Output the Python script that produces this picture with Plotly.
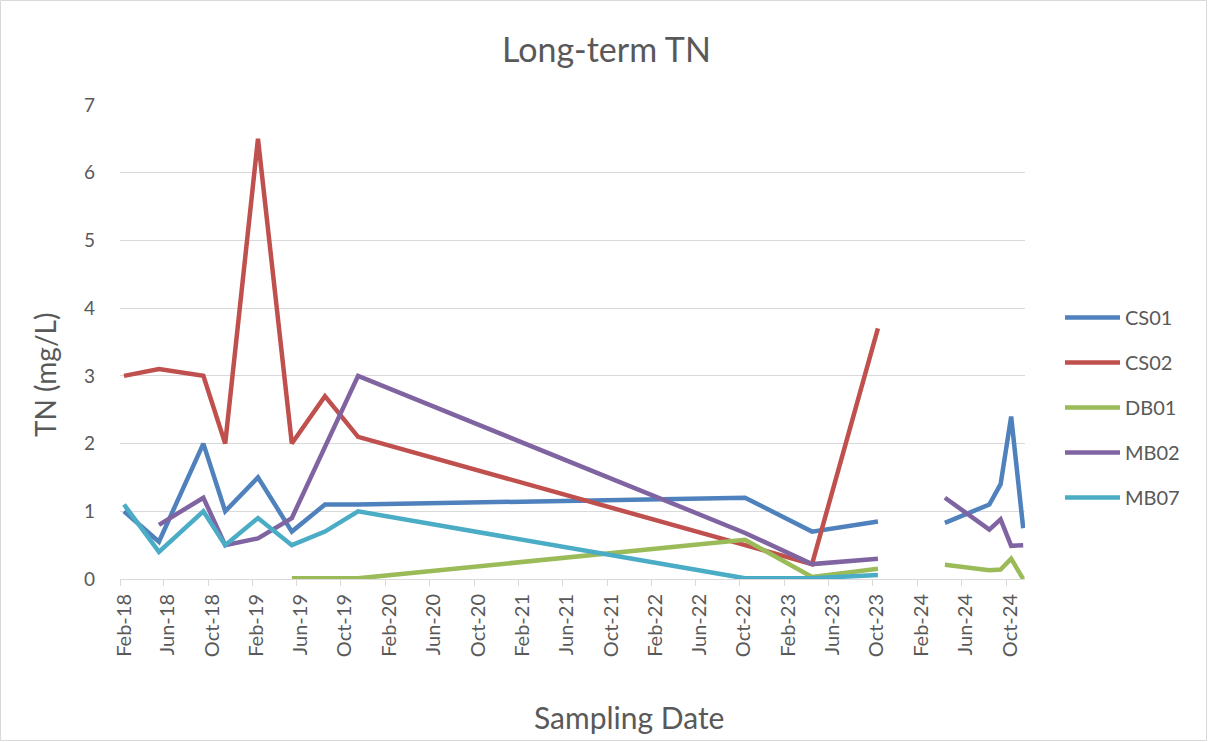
import plotly.graph_objects as go

# Sampling dates (a blank row in Jan-24 breaks the lines)
dates = ["2018-02-12", "2018-05-19", "2018-09-18", "2018-11-17", "2019-02-15",
         "2019-05-19", "2019-08-18", "2019-11-17", "2022-10-15", "2023-04-17",
         "2023-10-15", "2024-01-15", "2024-04-16", "2024-08-16", "2024-09-16",
         "2024-10-15", "2024-11-17"]

CS01 = [1.0, 0.55, 2.0, 1.0, 1.5, 0.7, 1.1, 1.1, 1.2, 0.7, 0.85, None, 0.83, 1.1, 1.4, 2.4, 0.75]
CS02 = [3.0, 3.1, 3.0, 2.0, 6.5, 2.0, 2.7, 2.1, 0.5, 0.22, 3.7, None, None, None, None, None, None]
DB01 = [None, None, None, None, None, 0.01, 0.01, 0.01, 0.58, 0.03, 0.15, None, 0.21, 0.13, 0.14, 0.3, 0.0]
MB02 = [None, 0.8, 1.2, 0.5, 0.6, 0.9, 1.95, 3.0, 0.68, 0.22, 0.3, None, 1.2, 0.73, 0.88, 0.49, 0.5]
MB07 = [1.1, 0.4, 1.0, 0.5, 0.9, 0.5, 0.7, 1.0, 0.01, 0.01, 0.06, None, None, None, None, None, None]

series = [("CS01", CS01, "#4F81BD"), ("CS02", CS02, "#C0504D"), ("DB01", DB01, "#9BBB59"),
          ("MB02", MB02, "#8064A2"), ("MB07", MB07, "#4BACC6")]

FONT = "Lato"
TXT = "#595959"
GRID = "#D9D9D9"

fig = go.Figure()
for name, vals, col in series:
    fig.add_trace(go.Scatter(x=dates, y=vals, name=name, mode="lines", legendgroup=name,
                             connectgaps=False,
                             line=dict(color=col, width=4.5, shape="linear")))

W, H = 1208, 742
ml, mr, mt, mb = 120, 183, 105, 163
pw, ph = W - ml - mr, H - mt - mb

fig.update_layout(
    width=W, height=H,
    margin=dict(l=ml, r=mr, t=mt, b=mb, pad=0),
    paper_bgcolor="white", plot_bgcolor="white",
    font=dict(family=FONT, color=TXT, size=19),
    title=dict(text="Long-term TN", x=0.502, xref="container", xanchor="center",
               y=1 - 50 / H, yref="container", yanchor="middle",
               font=dict(family=FONT, size=34, color=TXT)),
    legend=dict(x=(1060 - ml) / pw, xanchor="left", y=(H - mb - 298) / ph, yanchor="top",
                font=dict(family=FONT, size=20, color=TXT), tracegroupgap=16,
                itemwidth=55, bgcolor="rgba(0,0,0,0)"),
    showlegend=True,
)

fig.update_xaxes(
    type="date", range=["2018-02-01", "2024-11-22"],
    tick0="2018-02-01", dtick="M4", tickformat="%b-%y", tickangle=-90,
    ticks="outside", ticklen=6, tickcolor=GRID, tickwidth=1,
    showline=True, linecolor=GRID, linewidth=1, showgrid=False, zeroline=False,
    ticklabelshift=4,
    tickfont=dict(family=FONT, size=20, color=TXT),
)
fig.update_yaxes(
    range=[0, 7], dtick=1, showgrid=True, gridcolor=GRID, gridwidth=1,
    zeroline=False, showline=False, ticks="", ticklabelstandoff=24,
    tickfont=dict(family=FONT, size=19, color=TXT),
)

# axis titles as annotations (positioned like the original)
fig.add_annotation(text="TN (mg/L)", xref="paper", yref="paper",
                   x=(45 - ml) / pw, y=(H - mb - 375) / ph, textangle=-90,
                   showarrow=False, xanchor="center", yanchor="middle",
                   font=dict(family=FONT, size=28, color=TXT))
fig.add_annotation(text="Sampling Date", xref="paper", yref="paper",
                   x=(629 - ml) / pw, y=(H - mb - 717) / ph,
                   showarrow=False, xanchor="center", yanchor="middle",
                   font=dict(family=FONT, size=30, color=TXT))

# chart-area border
fig.add_shape(type="rect", xref="paper", yref="paper",
              x0=(0.5 - ml) / pw, x1=(W - 1.5 - ml) / pw,
              y0=(H - mb - (H - 1.5)) / ph, y1=(H - mb - 0.5) / ph,
              line=dict(color=GRID, width=1), fillcolor="rgba(0,0,0,0)", layer="below")

fig.write_html("out.html", config={"displayModeBar": False},
               post_script="document.body.style.margin='0';document.body.style.overflow='hidden';")
